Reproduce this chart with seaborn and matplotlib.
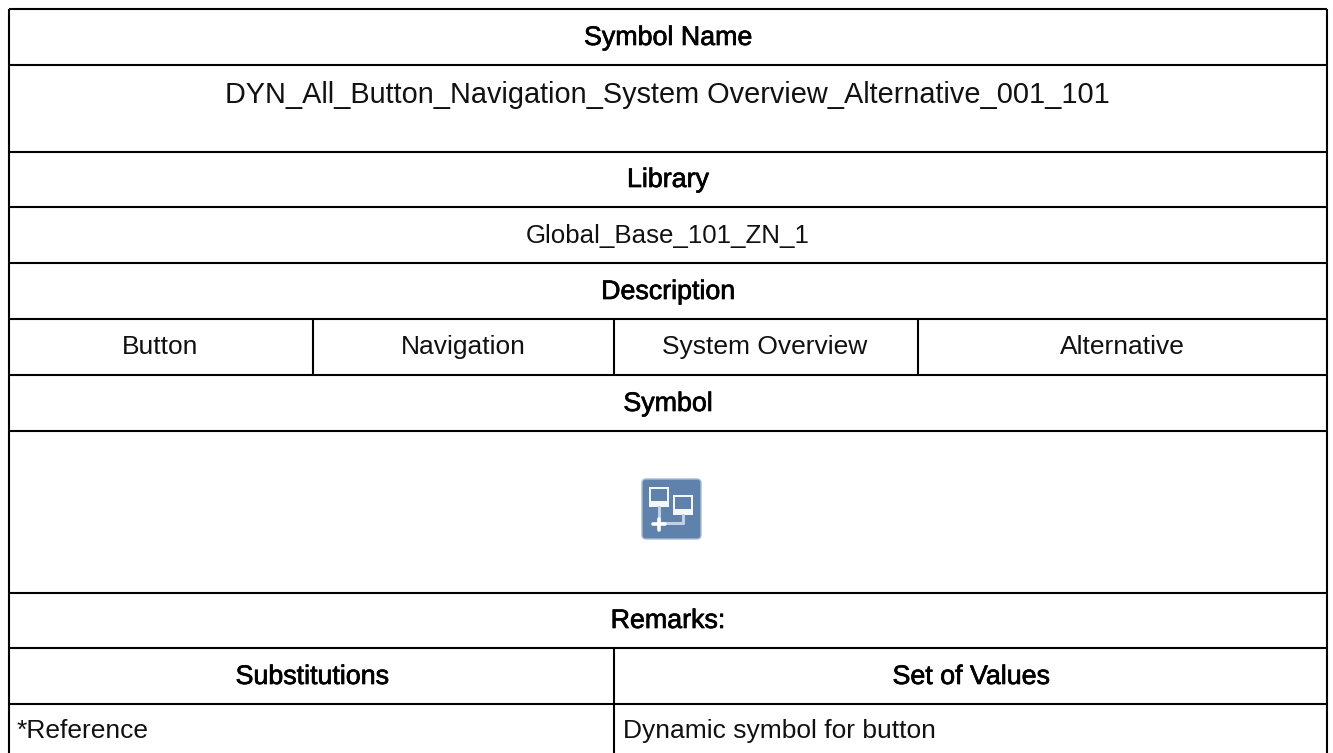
import matplotlib
matplotlib.use("Agg")
import matplotlib.pyplot as plt
import matplotlib.patheffects as pe
from matplotlib.patches import FancyBboxPatch, Rectangle
import seaborn as sns

# table text
headers = ["Symbol Name", "Library", "Description", "Symbol", "Remarks:"]
symbol_name = "DYN_All_Button_Navigation_System Overview_Alternative_001_101"
library = "Global_Base_101_ZN_1"
description = ["Button", "Navigation", "System Overview", "Alternative"]
subst_headers = ["Substitutions", "Set of Values"]
subst_row = ["*Reference", "Dynamic symbol for button"]

sns.set_theme(style="white")
plt.rcParams['font.family'] = ['Liberation Sans', 'DejaVu Sans']

fig = plt.figure(figsize=(13.33, 7.53), dpi=100)
ax = fig.add_axes([0, 0, 1, 1])
ax.set_xlim(0, 1333)
ax.set_ylim(753, 0)
ax.axis('off')

# layout in pixels
left, right = 9, 1326.5
rows = [9, 65, 152, 207, 263, 319, 375, 431, 592.5, 648, 704]
bottom = 753
lw = 1.5

for y in rows:
    ax.plot([left, right], [y, y], color='black', lw=lw, solid_capstyle='butt')
for x in [left, right]:
    ax.plot([x, x], [rows[0], bottom], color='black', lw=lw, solid_capstyle='butt')
for x in [313, 614, 918]:
    ax.plot([x, x], [319, 375], color='black', lw=lw, solid_capstyle='butt')
ax.plot([614, 614], [648, bottom], color='black', lw=lw, solid_capstyle='butt')

fs = 19
mid = 668
ink = '#111111'


def bold_text(x, y, s):
    t = ax.text(x, y, s, ha='center', va='center', fontsize=19.3, color='black')
    t.set_path_effects([pe.withStroke(linewidth=0.5, foreground='black')])


bold_text(mid, 38, headers[0])
ax.text(667.5, 95, symbol_name, ha='center', va='center', fontsize=20.75, color=ink)
bold_text(mid, 180, headers[1])
ax.text(mid, 236, library, ha='center', va='center', fontsize=18.6, color=ink)
bold_text(mid, 292, headers[2])

cell_mid = [160, 463, 765, 1122]
for x, s in zip(cell_mid, description):
    ax.text(x, 347, s, ha='center', va='center', fontsize=fs, color=ink)

bold_text(mid, 404, headers[3])
bold_text(mid, 621, headers[4])
bold_text(312, 677, subst_headers[0])
bold_text(971, 677, subst_headers[1])
ax.text(17, 731, subst_row[0], ha='left', va='center', fontsize=fs, color=ink)
ax.text(623, 731, subst_row[1], ha='left', va='center', fontsize=fs, color=ink)

# icon
blue = '#5f82ad'
ax.add_patch(FancyBboxPatch((642, 479), 59, 60, boxstyle="round,pad=0,rounding_size=4",
                            fc=blue, ec='#a9bcd3', lw=1))
for bx, by, bw, bh in [(649, 487, 20, 20), (673, 495, 20, 20)]:
    ax.add_patch(Rectangle((bx, by), bw, bh, fc='#f4f6f9', ec='none'))
    ax.add_patch(Rectangle((bx + 2, by + 2), bw - 4, bh - 8, fc=blue, ec='none'))
ax.plot([659, 659, 683, 683], [507, 523, 523, 515], color='#c4d0e0', lw=2.2, solid_joinstyle='round')
ax.plot([653, 665], [524, 524], color='white', lw=2.6)
ax.plot([659, 659], [519, 530], color='white', lw=2.6)

fig.savefig('out.png', dpi=100)
